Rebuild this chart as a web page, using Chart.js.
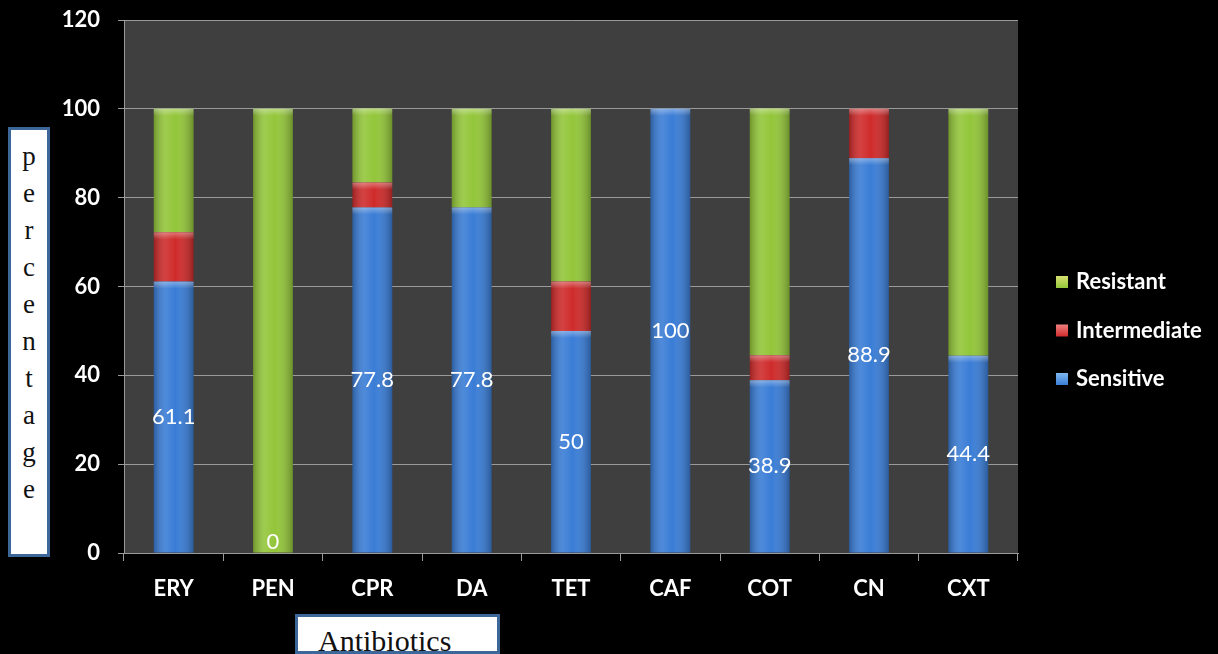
<!DOCTYPE html>
<html>
<head>
<meta charset="utf-8">
<title>Antibiotic susceptibility</title>
<script src="https://cdn.jsdelivr.net/npm/chart.js@4"></script>
<style>
    html, body { margin: 0; padding: 0; background: #000; }
    #wrap { position: relative; width: 1218px; height: 654px; overflow: hidden; }
    #wrap canvas { position: absolute; left: 0; top: 0; }
    .titleBox {
        position: absolute;
        background: #fff;
        border: 3px solid #3d6699;
        box-sizing: border-box;
        font-family: "Liberation Serif", "DejaVu Serif", serif;
        color: #111;
    }
    #yTitle { left: 8px; top: 127px; width: 42px; height: 430px; text-align: center; font-size: 27px; line-height: 37px; padding-top: 8px; }
    #xTitle { left: 295px; top: 614px; width: 205px; height: 40px; font-size: 30px; line-height: 30px; padding: 9px 0 0 20px; overflow: hidden; }
</style>
</head>
<body>
<div id="wrap">
    <canvas id="abChart" width="1218" height="654"></canvas>
    <div class="titleBox" id="yTitle">p<br>e<br>r<br>c<br>e<br>n<br>t<br>a<br>g<br>e</div>
    <div class="titleBox" id="xTitle">Antibiotics</div>
</div>

<script>
let antibiotics = ['ERY', 'PEN', 'CPR', 'DA', 'TET', 'CAF', 'COT', 'CN', 'CXT'];
let sensitive = [61.1, 0, 77.8, 77.8, 50, 100, 38.9, 88.9, 44.4];
let intermediate = [11.1, 0, 5.6, 0, 11.1, 0, 5.6, 11.1, 0];
let resistant = [27.8, 100, 16.7, 22.2, 38.9, 0, 55.6, 0, 55.6];
let yTicks = [0, 20, 40, 60, 80, 100, 120];

const fontFamily = 'Lato, "Open Sans", sans-serif';


// dark grey plot area behind the grid
const plotBackground = {
    id: 'plotBackground',
    beforeDraw(chart) {
        const { ctx, chartArea: a } = chart;
        ctx.save();
        ctx.fillStyle = '#3f3f3f';
        ctx.fillRect(a.left, a.top, a.right - a.left, a.bottom - a.top);
        ctx.restore();
    }
};


// rounded "cylinder" shading over each stacked segment
const barShading = {
    id: 'barShading',
    afterDatasetsDraw(chart) {
        const ctx = chart.ctx;
        ctx.save();
        chart.data.datasets.forEach((ds, i) => {
            chart.getDatasetMeta(i).data.forEach((bar) => {
                const { x, y, base, width } = bar.getProps(['x', 'y', 'base', 'width'], true);
                const h = base - y;
                if (h <= 0) return;
                const left = x - width / 2;

                const g = ctx.createLinearGradient(left, 0, left + width, 0);
                g.addColorStop(0, 'rgba(0,0,0,0.25)');
                g.addColorStop(0.3, 'rgba(255,255,255,0.10)');
                g.addColorStop(0.55, 'rgba(255,255,255,0)');
                g.addColorStop(1, 'rgba(0,0,0,0.28)');
                ctx.fillStyle = g;
                ctx.fillRect(left, y, width, h);

                const capH = Math.min(7, h);
                const c = ctx.createLinearGradient(0, y, 0, y + capH);
                c.addColorStop(0, 'rgba(255,255,255,0.35)');
                c.addColorStop(1, 'rgba(255,255,255,0)');
                ctx.fillStyle = c;
                ctx.fillRect(left, y, width, capH);
            });
        });
        ctx.restore();
    }
};


// sensitive percentage written in the middle of the blue segment
const valueLabels = {
    id: 'valueLabels',
    afterDatasetsDraw(chart) {
        const ctx = chart.ctx;
        const meta = chart.getDatasetMeta(0);
        ctx.save();
        ctx.fillStyle = '#ffffff';
        ctx.font = '22px ' + fontFamily;
        ctx.textAlign = 'center';
        ctx.textBaseline = 'middle';
        meta.data.forEach((bar, i) => {
            const { x, y, base } = bar.getProps(['x', 'y', 'base'], true);
            let ty = (y + base) / 2;
            if (sensitive[i] === 0) ty = base - 11;
            ctx.fillText(String(sensitive[i]), x, ty);
        });
        ctx.restore();
    }
};


// legend on the right, top item first (Resistant)
const sideLegend = {
    id: 'sideLegend',
    afterDraw(chart) {
        const ctx = chart.ctx;
        const items = chart.data.datasets.slice().reverse();
        const boxX = chart.chartArea.right + 38;
        const firstY = 282;
        const gap = 48.5;
        ctx.save();
        ctx.font = 'bold 22px ' + fontFamily;
        ctx.textBaseline = 'middle';
        ctx.textAlign = 'left';
        items.forEach((ds, i) => {
            const cy = firstY + i * gap;
            const g = ctx.createLinearGradient(0, cy - 6, 0, cy + 6);
            g.addColorStop(0, ds.legendLight);
            g.addColorStop(1, ds.backgroundColor);
            ctx.fillStyle = g;
            ctx.fillRect(boxX, cy - 6, 12, 12);
            ctx.fillStyle = '#ffffff';
            ctx.fillText(ds.label, boxX + 20, cy);
        });
        ctx.restore();
    }
};


function createChart() {
    new Chart('abChart', {
        type: 'bar',
        data: {
            labels: antibiotics,
            datasets: [{
                label: 'Sensitive',
                data: sensitive,
                backgroundColor: '#3a7dd6',
                legendLight: '#7fb8f0'
            }, {
                label: 'Intermediate',
                data: intermediate,
                backgroundColor: '#cf2b2b',
                legendLight: '#f08080'
            }, {
                label: 'Resistant',
                data: resistant,
                backgroundColor: '#93c63a',
                legendLight: '#d8e070'
            }]
        },
        options: {
            responsive: false,
            animation: false,
            devicePixelRatio: 1,
            barPercentage: 0.4,
            categoryPercentage: 1.0,
            layout: { padding: { left: 60, right: 200, top: 20, bottom: 0 } },
            plugins: {
                legend: { display: false },
                tooltip: { enabled: false }
            },
            scales: {
                x: {
                    stacked: true,
                    grid: { drawOnChartArea: false, tickLength: 8, color: '#9a9a9a', offset: true },
                    border: { color: '#9a9a9a' },
                    ticks: { color: '#ffffff', font: { family: fontFamily, size: 22, weight: 'bold' }, padding: 15 },
                    afterFit(scale) { scale.height = 101; }
                },
                y: {
                    stacked: true,
                    min: yTicks[0],
                    max: yTicks[yTicks.length - 1],
                    afterBuildTicks(scale) { scale.ticks = yTicks.map(v => ({ value: v })); },
                    grid: { color: '#9a9a9a', tickLength: 6 },
                    border: { color: '#9a9a9a' },
                    ticks: { color: '#ffffff', font: { family: fontFamily, size: 22, weight: 'bold' }, padding: 18 },
                    afterFit(scale) {
                        scale.width = 64;
                        scale.paddingTop = 0;
                        scale.paddingBottom = 0;
                    }
                }
            }
        },
        plugins: [plotBackground, barShading, valueLabels, sideLegend]
    });
}

createChart();
</script>
</body>
</html>
